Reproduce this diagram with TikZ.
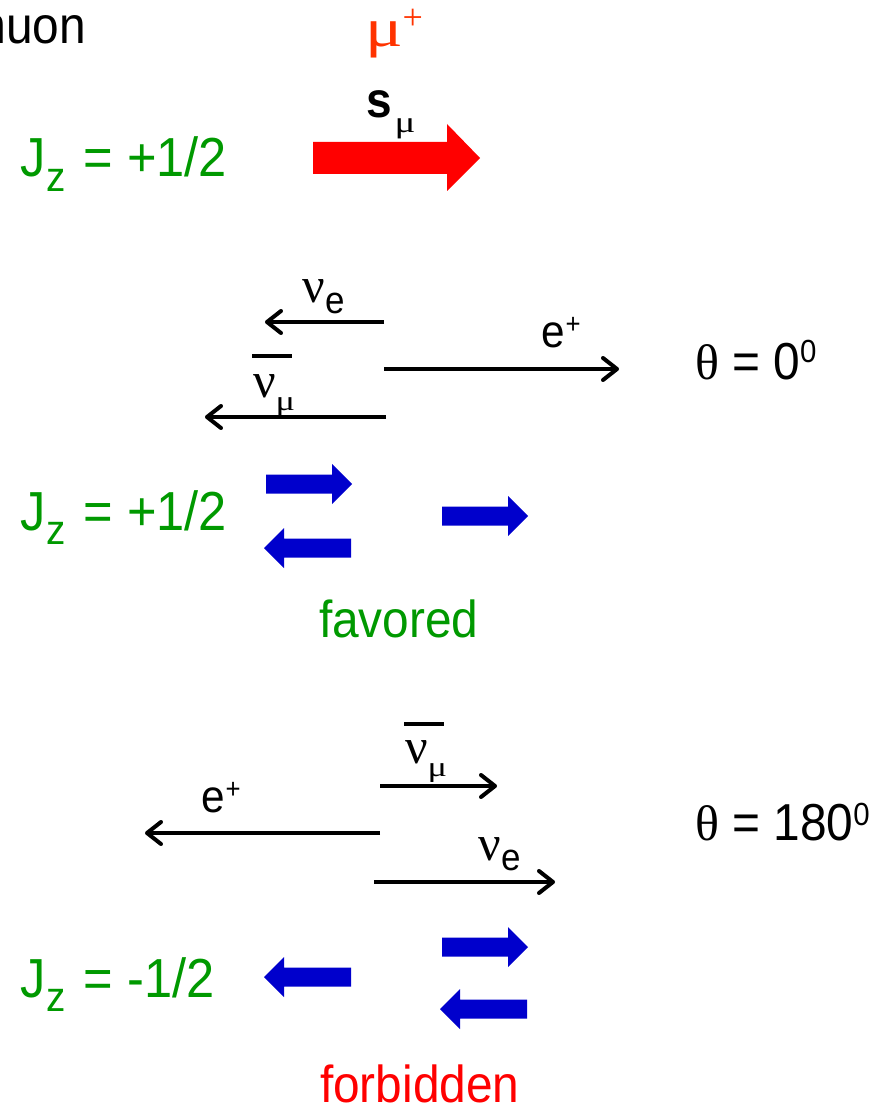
\documentclass[tikz,border=0pt]{standalone}
\usepackage{fontspec}
\setmainfont{Liberation Sans}[FakeStretch=0.92]
\newfontfamily\gr{Liberation Serif}
\usetikzlibrary{arrows.meta}
\definecolor{jgreen}{RGB}{0,153,0}
\definecolor{bblue}{RGB}{0,0,204}
\definecolor{mured}{RGB}{255,51,0}
\newcommand{\sz}[1]{\fontsize{#1}{#1}\selectfont}
\newcommand{\wmu}{\scalebox{1.3}[1]{μ}}
\begin{document}
\begin{tikzpicture}[x=1pt,y=-1pt,
  lbl/.style={inner sep=0pt, outer sep=0pt, anchor=base west},
  big/.style={font=\sz{52}},
  jz/.style={lbl, font=\sz{55}, text=jgreen},
  ptl/.style={lbl, font=\sz{50}},
  thinarrow/.style={line width=4pt, -{Straight Barb[length=14pt,width=22pt,round]}},
  barline/.style={line width=4pt},
  rblock/.pic={\fill (0,-9.5) -- (66,-9.5) -- (66,-20) -- (86,0) -- (66,20) -- (66,9.5) -- (0,9.5) -- cycle;},
  lblock/.pic={\fill (0,0) -- (20,-20) -- (20,-9.5) -- (87,-9.5) -- (87,9.5) -- (20,9.5) -- (20,20) -- cycle;}
]
\useasboundingbox (0,0) rectangle (892,1118);

% ---------- top ----------
\node[lbl, big, anchor=base east] (muon) at (86,44) {muon};
\node[lbl, text=mured] (mu) at (365,47) {{\gr\sz{54}\wmu}\raisebox{17pt}{\gr\sz{36}+}};
\node[lbl] (smu) at (366,118) {{\sz{50}\bfseries s}\hspace{3pt}\raisebox{-15pt}{\gr\sz{30}\wmu}};
\node[jz] (jz1) at (20,177) {J\hspace{1pt}\raisebox{-14pt}{\sz{42}z}\hspace{4pt} = +1/2};
\fill[red] (313,142) -- (447,142) -- (447,124) -- (480,158) -- (447,191) -- (447,174) -- (313,174) -- cycle;

% ---------- theta = 0 ----------
\coordinate (o2a) at (384,322);
\coordinate (t2a) at (265,322);
\coordinate (o2b) at (384,369);
\coordinate (t2b) at (619,369);
\coordinate (o2c) at (386,417);
\coordinate (t2c) at (205,417);
\draw[thinarrow] (o2a) -- (t2a);
\draw[thinarrow] (o2b) -- (t2b);
\draw[thinarrow] (o2c) -- (t2c);
\node[ptl] (nue2) at (302,302) {{\gr ν}\hspace{1pt}\raisebox{-11pt}{\sz{38}e}};
\node[lbl] (ep2) at (541,347) {{\sz{46}e}\hspace{1pt}\raisebox{14pt}{\sz{28}+}};
\node[ptl] (numu2) at (253,397) {{\gr ν}\raisebox{-13pt}{\gr\sz{28}\wmu}};
\draw[barline] (252,356) -- (292,356);
\node[lbl] (th0) at (695,379) {{\gr\sz{50}θ}\sz{52} = 0\raisebox{17pt}{\sz{32}0}};

\node[jz] (jz2) at (20,530) {J\hspace{1pt}\raisebox{-14pt}{\sz{42}z}\hspace{4pt} = +1/2};
\pic[fill=bblue] at (266,484) {rblock};
\pic[fill=bblue] at (264,548) {lblock};
\pic[fill=bblue] at (442,516) {rblock};
\node[lbl, big, text=jgreen] (fav) at (319,637) {favored};

% ---------- theta = 180 ----------
\coordinate (o3a) at (380,786);
\coordinate (t3a) at (497,786);
\coordinate (o3b) at (380,833);
\coordinate (t3b) at (145,833);
\coordinate (o3c) at (374,882);
\coordinate (t3c) at (555,882);
\draw[thinarrow] (o3a) -- (t3a);
\draw[thinarrow] (o3b) -- (t3b);
\draw[thinarrow] (o3c) -- (t3c);
\node[ptl] (numu3) at (405,763) {{\gr ν}\raisebox{-13pt}{\gr\sz{28}\wmu}};
\draw[barline] (404,724) -- (444,724);
\node[lbl] (ep3) at (201,812) {{\sz{46}e}\hspace{1pt}\raisebox{14pt}{\sz{28}+}};
\node[ptl] (nue3) at (478,860) {{\gr ν}\hspace{1pt}\raisebox{-10pt}{\sz{38}e}};
\node[lbl] (th180) at (695,840) {{\gr\sz{50}θ}\sz{52} = 180\raisebox{15pt}{\sz{32}0}};

\node[jz] (jz3) at (20,997) {J\hspace{1pt}\raisebox{-14pt}{\sz{42}z}\hspace{4pt} = -1/2};
\pic[fill=bblue] at (264,977) {lblock};
\pic[fill=bblue] at (442,947) {rblock};
\pic[fill=bblue] at (440,1009) {lblock};
\node[lbl, big, text=red] (forb) at (320,1102) {forbidden};
\end{tikzpicture}
\end{document}
